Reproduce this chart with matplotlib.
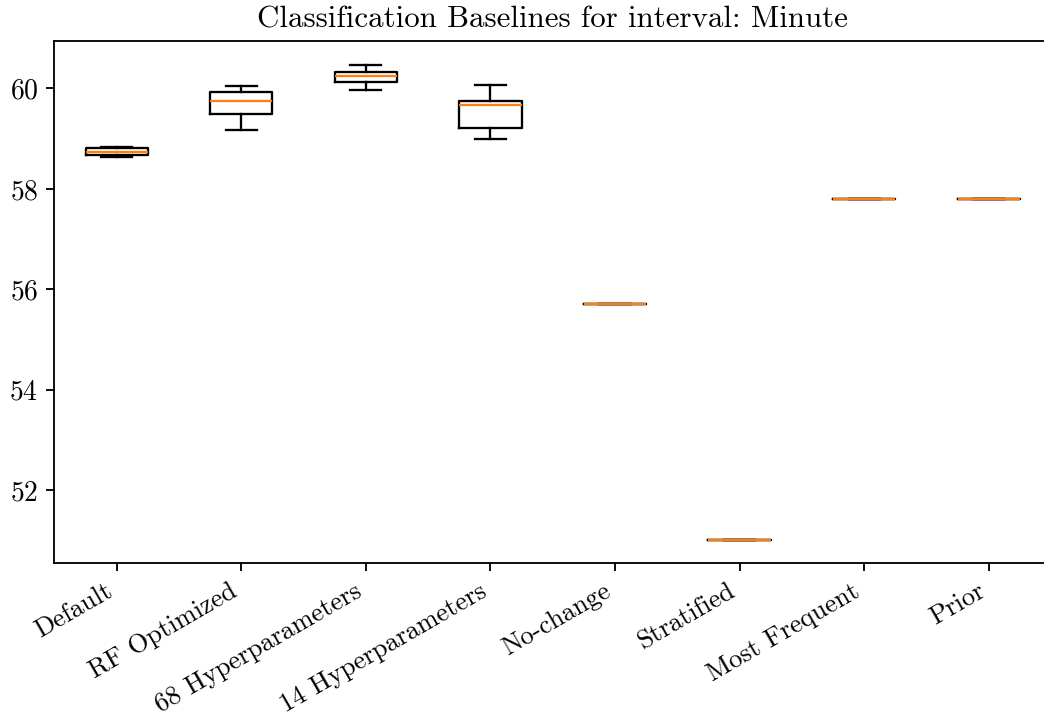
import matplotlib
matplotlib.use("Agg")
import matplotlib.pyplot as plt

plt.rcParams['font.family'] = ['cmr10', 'DejaVu Serif']
plt.rcParams['mathtext.fontset'] = 'cm'
plt.rcParams['axes.formatter.use_mathtext'] = True
plt.rcParams['xtick.labelsize'] = 11.5
plt.rcParams['ytick.labelsize'] = 12

categories = ["Default", "RF Optimized", "68 Hyperparameters", "14 Hyperparameters",
              "No-change", "Stratified", "Most Frequent", "Prior"]
whislo = [58.64, 59.17, 59.97, 58.99, 55.71, 51.02, 57.79, 57.79]
q1     = [58.67, 59.48, 60.13, 59.22, 55.71, 51.02, 57.79, 57.79]
med    = [58.74, 59.75, 60.25, 59.67, 55.71, 51.02, 57.79, 57.79]
q3     = [58.81, 59.92, 60.32, 59.75, 55.71, 51.02, 57.79, 57.79]
whishi = [58.84, 60.05, 60.47, 60.07, 55.71, 51.02, 57.79, 57.79]

stats = [dict(label=c, whislo=a, q1=b, med=m, q3=d, whishi=e, fliers=[])
         for c, a, b, m, d, e in zip(categories, whislo, q1, med, q3, whishi)]

DPI = 166
fig = plt.figure(figsize=(1044 / DPI, 721 / DPI), dpi=DPI)
ax = fig.add_axes([54.4 / 1044, 157.7 / 721, (1051 - 54.4) / 1044, (563.3 - 41) / 721])
ax.bxp(stats, showfliers=False,
       boxprops=dict(linewidth=1.0), whiskerprops=dict(linewidth=1.0),
       capprops=dict(linewidth=1.0),
       medianprops=dict(color='#ff7f0e', linewidth=1.0))
ax.set_title("Classification Baselines for interval: Minute", fontsize=13.4)
plt.setp(ax.get_xticklabels(), rotation=30, ha='right')
fig.savefig("out.png", dpi=DPI)
